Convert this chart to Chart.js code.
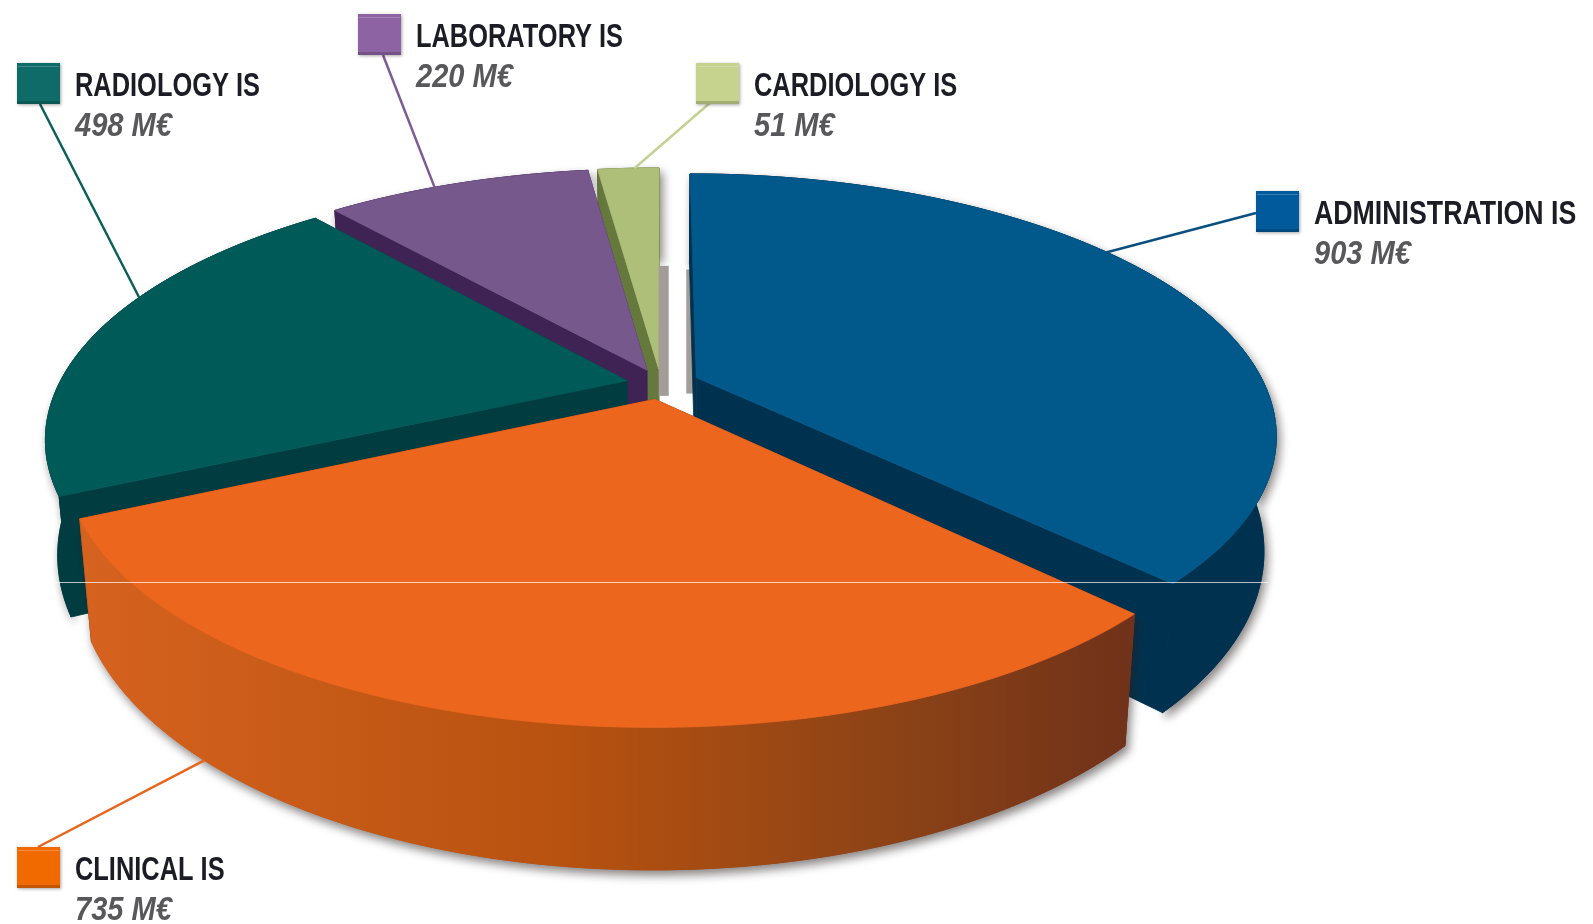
<!DOCTYPE html>
<html>
<head>
<meta charset="utf-8">
<title>IS market</title>
<script src="https://cdn.jsdelivr.net/npm/chart.js@4/dist/chart.umd.min.js"></script>
<style>
    html, body { margin: 0; background: #fff; }
    canvas { display: block; }
</style>
</head>
<body>
<canvas id="pie" width="1593" height="924"></canvas>
<script>
// data
const categories = ['ADMINISTRATION IS', 'CLINICAL IS', 'RADIOLOGY IS', 'LABORATORY IS', 'CARDIOLOGY IS'];
const values = [903, 735, 498, 220, 51];
const unit = 'M€';

// colours per slice
const topColors = ['#00598a', '#ec661e', '#005a58', '#76588c', '#aebf7a'];
const wallColors = ['#00324f', '#b8500f', '#003c40', '#3f2355', '#66793c'];
const swatchColors = ['#005a9c', '#f06a00', '#0e6b68', '#8e63a4', '#c5d38e'];
const leaderColors = ['#0a4f80', '#e8661c', '#0d5f5c', '#7d5b93', '#c3d193'];
const explode = [110, 100, 100, 100, 100];

// label layout: swatch box, leader start on the swatch, where the leader lands on the slice
const swatches = [[1256, 191], [17, 847], [17, 63], [358, 14], [696, 63]];
const leaderFrom = [[1256, 213], [38, 847], [40, 104], [383, 55], [711, 102]];
const leaderFrac = [0.41, 0.79, 0.62, 0.41, 0.6];
const leaderZ = [0, 1, 0, 0, 0];

// fake 3d view of the flat pie
const view = { cx: 661, cy: 384, rx: 568, ry: 250, persp: 0.215, depth: 110 };
const drawOrder = [4, 3, 2, 0, 1];

function project(u, v, z) {
    const f = 1 / (1 - view.persp * v);
    return [
        view.cx + view.rx * u * f * (1 - 0.02 * z),
        view.cy + view.ry * v * f + view.depth * z * f
    ];
}

// slice point in the flat pie -> screen, uses the arc element of chart.js
function arcPoint(arc, angle, r, z) {
    const mid = (arc.startAngle + arc.endAngle) / 2;
    const e = arc.options.offset / 4 / arc.outerRadius;
    return project(Math.cos(angle) * r + Math.cos(mid) * e, Math.sin(angle) * r + Math.sin(mid) * e, z);
}

function edgePoints(arc, z) {
    const pts = [];
    const steps = Math.max(4, Math.ceil((arc.endAngle - arc.startAngle) * 60));
    for (let i = 0; i <= steps; i++) {
        pts.push(arcPoint(arc, arc.startAngle + (arc.endAngle - arc.startAngle) * i / steps, 1, z));
    }
    return pts;
}

function fillPoly(ctx, pts, fill) {
    ctx.beginPath();
    pts.forEach((p, i) => i ? ctx.lineTo(p[0], p[1]) : ctx.moveTo(p[0], p[1]));
    ctx.closePath();
    ctx.fillStyle = fill;
    ctx.strokeStyle = fill;
    ctx.lineWidth = 0.8;
    ctx.fill();
    ctx.stroke();
}

function wallFill(ctx, i) {
    if (i !== 1) return wallColors[i];
    const g = ctx.createLinearGradient(90, 0, 1130, 0);
    g.addColorStop(0, '#d5621e');
    g.addColorStop(0.45, '#b85210');
    g.addColorStop(0.75, '#8f4416');
    g.addColorStop(1, '#70321a');
    return g;
}

function drawSlice(ctx, arc, i) {
    const top = edgePoints(arc, 0);
    const bottom = edgePoints(arc, 1);
    const apexTop = arcPoint(arc, arc.startAngle, 0, 0);
    const apexBottom = arcPoint(arc, arc.startAngle, 0, 1);
    const outer = top.concat(bottom.slice().reverse());

    // shadow pass of the outer wall
    ctx.save();
    ctx.shadowColor = 'rgba(40,30,30,0.55)';
    ctx.shadowBlur = 10;
    ctx.shadowOffsetX = 3;
    ctx.shadowOffsetY = 5;
    fillPoly(ctx, outer, wallFill(ctx, i));
    ctx.restore();

    // cut walls, then the outer wall again so it hides them
    const darkCut = i === 1 ? '#70321a' : wallColors[i];
    fillPoly(ctx, [apexTop, top[0], bottom[0], apexBottom], darkCut);
    fillPoly(ctx, [apexTop, top[top.length - 1], bottom[bottom.length - 1], apexBottom], darkCut);
    fillPoly(ctx, outer, wallFill(ctx, i));

    fillPoly(ctx, [apexTop].concat(top), topColors[i]);
}

// grey shadow strips in the gap between cardiology and administration
function drawGapShadow(ctx, arcs) {
    const a = arcPoint(arcs[4], arcs[4].endAngle, 0, 0);
    const b = arcPoint(arcs[0], arcs[0].startAngle, 0, 0);
    ctx.fillStyle = '#a39d99';
    ctx.fillRect(a[0], a[1] - 103, 10, 130);
    ctx.fillRect(b[0] - 10, b[1] - 108, 10, 124);
}

// condensed look: no narrow face is installed, so squeeze the text
function squeezedText(ctx, text, x, y, sx) {
    ctx.save();
    ctx.translate(x, y);
    ctx.scale(sx, 1);
    ctx.fillText(text, 0, 0);
    ctx.restore();
}

function drawLabels(ctx, arcs) {
    arcs.forEach((arc, i) => {
        const angle = arc.startAngle + (arc.endAngle - arc.startAngle) * leaderFrac[i];
        const end = arcPoint(arc, angle, 1, leaderZ[i]);
        ctx.beginPath();
        ctx.moveTo(leaderFrom[i][0], leaderFrom[i][1]);
        ctx.lineTo(end[0], end[1]);
        ctx.strokeStyle = leaderColors[i];
        ctx.lineWidth = 2.5;
        ctx.stroke();

        const [sx, sy] = swatches[i];
        ctx.save();
        ctx.shadowColor = 'rgba(0,0,0,0.35)';
        ctx.shadowBlur = 3;
        ctx.shadowOffsetX = 1;
        ctx.shadowOffsetY = 1;
        ctx.fillStyle = swatchColors[i];
        ctx.fillRect(sx, sy, 43, 41);
        ctx.restore();
        // little bevel on the swatch
        ctx.fillStyle = 'rgba(255,255,255,0.22)';
        ctx.fillRect(sx + 1, sy + 3, 41, 1);
        ctx.fillStyle = 'rgba(0,0,0,0.18)';
        ctx.fillRect(sx, sy + 38, 43, 3);

        ctx.textBaseline = 'alphabetic';
        ctx.textAlign = 'left';
        ctx.font = 'bold 33px "Liberation Sans", sans-serif';
        ctx.fillStyle = '#1b1c24';
        squeezedText(ctx, categories[i], sx + 58, sy + 33, i === 0 ? 0.81 : 0.77);
        ctx.font = 'italic bold 33px "Liberation Sans", sans-serif';
        ctx.fillStyle = '#58585a';
        squeezedText(ctx, values[i] + ' ' + unit, sx + 58, sy + 73, 0.88);
    });
}

const pie3d = {
    id: 'pie3d',
    beforeDatasetsDraw(chart) {
        const ctx = chart.ctx;
        const arcs = chart.getDatasetMeta(0).data;
        ctx.save();
        drawOrder.slice(0, 3).forEach(i => drawSlice(ctx, arcs[i], i));
        drawGapShadow(ctx, arcs);
        drawOrder.slice(3).forEach(i => drawSlice(ctx, arcs[i], i));
        drawLabels(ctx, arcs);
        // scan seam in the original
        ctx.fillStyle = 'rgba(255,255,255,0.7)';
        ctx.fillRect(52, 582, 1216, 1);
        ctx.restore();
        return false; // flat arcs are replaced by the 3d ones
    }
};

new Chart(document.getElementById('pie'), {
    type: 'pie',
    data: {
        labels: categories,
        datasets: [{
            data: values,
            backgroundColor: topColors,
            offset: explode,
            borderWidth: 0
        }]
    },
    options: {
        responsive: false,
        animation: false,
        plugins: {
            legend: { display: false },
            tooltip: { enabled: false }
        }
    },
    plugins: [pie3d]
});
</script>
</body>
</html>
